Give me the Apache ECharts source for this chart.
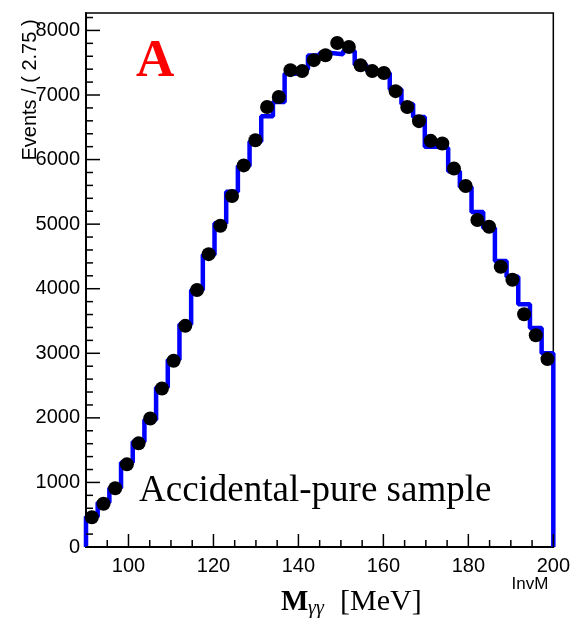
<!DOCTYPE html>
<html>
<head>
<meta charset="utf-8">
<script src="https://cdn.jsdelivr.net/npm/echarts@6/dist/echarts.min.js"></script>
<style>
html,body{margin:0;padding:0;background:#fff;}
#chart{width:573px;height:618px;}
</style>
</head>
<body>
<div id="chart"></div>
<script>
// Histogram binning (InvM, 40 bins of 2.75 MeV from 90 to 200)
const binStart = 90;
const binWidth = 2.75;
// Data points (black markers), events per bin
const dataCounts = [460, 670, 910, 1280, 1605, 1990, 2455, 2885, 3425, 3980,
  4535, 4975, 5435, 5910, 6300, 6815, 6970, 7385, 7370, 7540,
  7615, 7805, 7745, 7460, 7370, 7340, 7060, 6815, 6595, 6290,
  6250, 5860, 5590, 5065, 4960, 4340, 4140, 3605, 3280, 2910];
// Blue step histogram (model), events per bin
const modelCounts = [470, 690, 915, 1310, 1630, 1970, 2470, 2900, 3450, 3980,
  4525, 5015, 5500, 5900, 6280, 6670, 6890, 7330, 7400, 7610,
  7650, 7630, 7680, 7470, 7380, 7340, 7090, 6860, 6660, 6200,
  6180, 5820, 5575, 5190, 4940, 4430, 4185, 3760, 3390, 3000];
// Tick values
const xTickLabels = [100, 120, 140, 160, 180, 200];
const xMinorTicks = [95, 105, 110, 115, 125, 130, 135, 145, 150, 155, 165, 170, 175, 185, 190, 195];
const yTickLabels = [0, 1000, 2000, 3000, 4000, 5000, 6000, 7000, 8000];
const yMinorTicks = [200, 400, 600, 800, 1200, 1400, 1600, 1800, 2200, 2400, 2600, 2800,
  3200, 3400, 3600, 3800, 4200, 4400, 4600, 4800, 5200, 5400, 5600, 5800,
  6200, 6400, 6600, 6800, 7200, 7400, 7600, 7800, 8200];
const yMax = 8270;

const nBins = dataCounts.length;
const binEnd = binStart + binWidth * nBins;

const stepData = [[binStart, 0]];
for (let i = 0; i < nBins; i++) {
  const lo = binStart + i * binWidth, hi = lo + binWidth;
  stepData.push([lo, modelCounts[i]]);
  stepData.push([hi, modelCounts[i]]);
}
stepData.push([binEnd, 0]);

const pointData = dataCounts.map((v, i) => [binStart + (i + 0.5) * binWidth, v]);

const chart = echarts.init(document.getElementById('chart'), null, {renderer: 'canvas'});
const sans = 'Liberation Sans, Arial, Helvetica, sans-serif';
const serif = 'Liberation Serif, Times New Roman, serif';

chart.setOption({
  animation: false,
  backgroundColor: '#fff',
  grid: {left: 86, right: 16, top: 13, bottom: 71, show: true,
    backgroundColor: 'rgba(0,0,0,0)', borderColor: '#000', borderWidth: 1.5, containLabel: false},
  xAxis: {
    type: 'value', min: binStart, max: binEnd, splitNumber: 5, position: 'bottom',
    axisLine: {show: true, onZero: false, lineStyle: {color: '#000', width: 2}},
    axisTick: {show: false},
    minorTick: {show: false},
    axisLabel: {show: true, color: '#000', fontSize: 20, fontFamily: sans, margin: 9,
      showMinLabel: false,
      formatter: v => (xTickLabels.indexOf(Math.round(v)) >= 0 ? String(Math.round(v)) : '')},
    splitLine: {show: false}
  },
  yAxis: {
    type: 'value', min: 0, max: yMax, interval: 1000, position: 'left',
    axisLine: {show: true, onZero: false, lineStyle: {color: '#000', width: 2}},
    axisTick: {show: false},
    minorTick: {show: false},
    axisLabel: {show: true, color: '#000', fontSize: 20, fontFamily: sans, margin: 6,
      showMaxLabel: false,
      formatter: v => (yTickLabels.indexOf(Math.round(v)) >= 0 ? String(Math.round(v)) : '')},
    splitLine: {show: false}
  },
  series: [{
    type: 'line',
    data: stepData, showSymbol: false, symbol: 'none', clip: false,
    lineStyle: {color: '#0000ff', width: 4.5}, z: 2
  }, {
    type: 'scatter',
    data: pointData, symbol: 'circle', symbolSize: 14,
    itemStyle: {color: '#000', opacity: 1}, z: 3
  }]
});

// Inward tick marks placed through the axes' own scales
const xAt = v => chart.convertToPixel({xAxisIndex: 0}, v);
const yAt = v => chart.convertToPixel({yAxisIndex: 0}, v);
const x0 = xAt(binStart), y0 = yAt(0);
const tickLines = [];
function addX(v, len) {
  const px = xAt(v);
  tickLines.push({type: 'line', silent: true, z: 100,
    shape: {x1: px, y1: y0, x2: px, y2: y0 - len}, style: {stroke: '#000', lineWidth: 1.5}});
}
function addY(v, len) {
  const py = yAt(v);
  tickLines.push({type: 'line', silent: true, z: 100,
    shape: {x1: x0, y1: py, x2: x0 + len, y2: py}, style: {stroke: '#000', lineWidth: 1.5}});
}
xTickLabels.forEach(v => addX(v, 13));
xMinorTicks.forEach(v => addX(v, 7));
yTickLabels.forEach(v => addY(v, 14));
yMinorTicks.forEach(v => addY(v, 7));

const texts = [
  {type: 'text', x: 30, y: 90, rotation: Math.PI / 2,
    style: {text: 'Events / ( 2.75 )', font: '20px ' + sans, fill: '#000', textAlign: 'center', textVerticalAlign: 'middle'}},
  {type: 'text', x: 136, y: 62,
    style: {text: 'A', font: 'bold 53px ' + serif, fill: '#ff0000', textAlign: 'left', textVerticalAlign: 'middle'}},
  {type: 'text', x: 139, y: 491,
    style: {text: 'Accidental-pure sample', font: '37px ' + serif, fill: '#000', textAlign: 'left', textVerticalAlign: 'middle'}},
  {type: 'text', x: 530, y: 584,
    style: {text: 'InvM', font: '17px ' + sans, fill: '#000', textAlign: 'center', textVerticalAlign: 'middle'}},
  {type: 'text', x: 281, y: 603,
    style: {text: 'M', font: 'bold 29px ' + serif, fill: '#000', textAlign: 'left', textVerticalAlign: 'middle'}},
  {type: 'text', x: 308, y: 609,
    style: {text: 'γγ', font: 'italic 20px ' + serif, fill: '#000', textAlign: 'left', textVerticalAlign: 'middle'}},
  {type: 'text', x: 340, y: 602,
    style: {text: '[MeV]', font: '30px ' + serif, fill: '#000', textAlign: 'left', textVerticalAlign: 'middle'}}
];

chart.setOption({graphic: texts.concat(tickLines)});
</script>
</body>
</html>
